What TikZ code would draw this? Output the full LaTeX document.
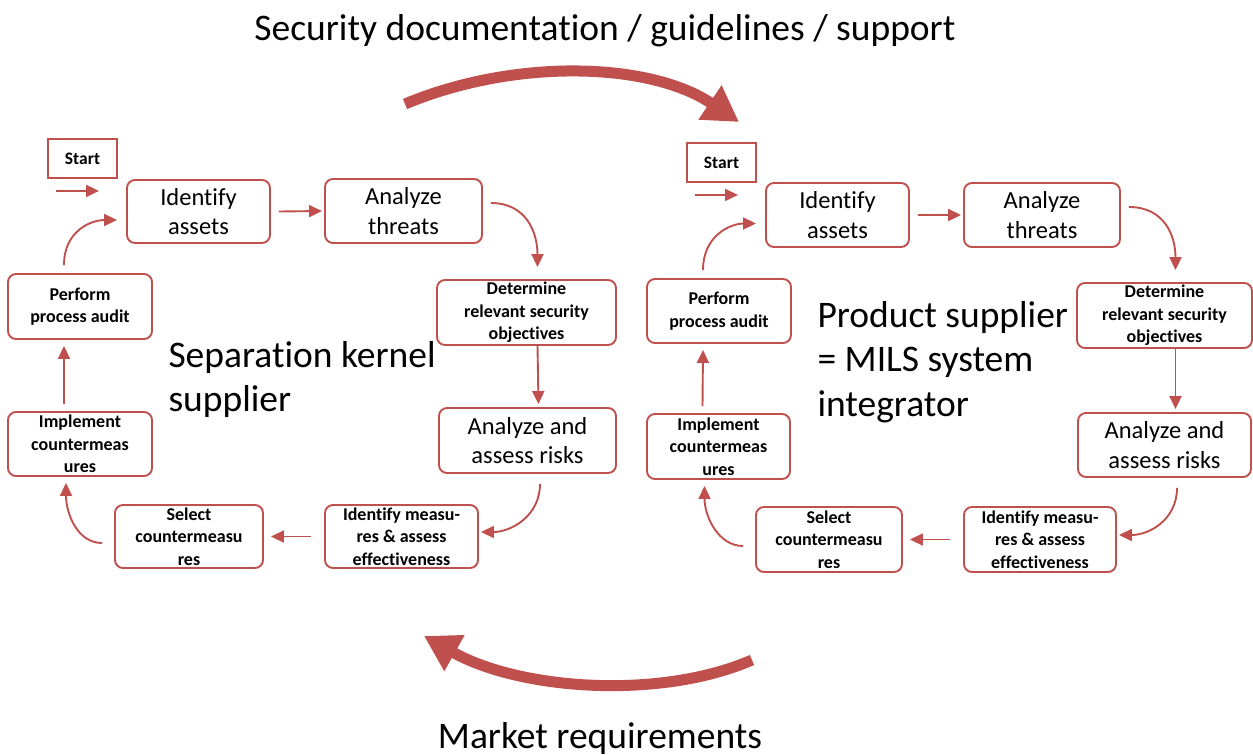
\documentclass[tikz,border=0pt]{standalone}
\usepackage{fontspec}
\setmainfont{Carlito}[Ligatures=NoCommon]
\usetikzlibrary{arrows.meta,calc}
\definecolor{accent}{HTML}{C0504D}

% connectors of one risk-management cycle; #1 is the node-name prefix
\newcommand\cycleflow[1]{%
  \coordinate (#1s0) at ($(#1start.south)+(-26.5,12)$);
  \coordinate (#1s1) at ($(#1start.south)+(16.5,12)$);
  \draw[arr] (#1s0) -- (#1s1);
  \draw[arr] ($(#1id.east)+(8,0)$) -- ($(#1at.west)+(-2,0)$);
  \draw[arr] ($(#1at.east)+(8,-8)$) .. controls +(35,0) and +(0,-35) .. ($(#1det.north)+(11,-12)$);
  \draw[arr] ($(#1det.south)+(11,0)$) -- ($(#1ar.north)+(11,-3)$);
  \draw[arr] ($(#1ar.south)+(12.5,10)$) .. controls +(0,32) and +(30,0) .. ($(#1im.east)+(2,-4.5)$);
  \draw[arr] ($(#1im.west)+(-13,0)$) -- ($(#1sel.east)+(7,0)$);
  \draw[arr] ($(#1sel.west)+(-12,6.5)$) .. controls +(-25,0) and +(0,30) .. ($(#1impl.south)+(-14,6)$);
  \draw[arr] ($(#1impl.north)+(-16,-7)$) -- ($(#1pa.south)+(-16,6)$);
  \draw[arr] ($(#1pa.north)+(-16,-8)$) .. controls +(0,-35) and +(-25,0) .. ($(#1id.west)+(-9,8.5)$);
}

\begin{document}
\begin{tikzpicture}[x=1pt,y=-1pt,
  box/.style={draw=accent, line width=1.9pt, rounded corners=8pt, align=center,
    inner sep=0pt, text=black},
  big/.style={box, font=\fontsize{24.5}{29.5}\selectfont},
  small/.style={box, font=\bfseries\fontsize{18}{22.5}\selectfont},
  startbox/.style={draw=accent, line width=1.9pt, inner sep=0pt, text=black,
    minimum width=69pt, minimum height=39pt, font=\bfseries\fontsize{17.5}{20}\selectfont},
  arr/.style={draw=accent, line width=1.9pt, -{Triangle[length=13pt,width=12pt]}},
  bigarrow/.style={draw=accent, line width=11pt, -{Triangle[length=35pt,width=39pt]}},
  heading/.style={font=\fontsize{37.5}{44}\selectfont, text=black},
  label/.style={font=\fontsize{37.5}{44.5}\selectfont, text=black, align=left, anchor=base west},
]
\useasboundingbox (0,0) rectangle (1253,755);

% headings and the two exchange arrows
\node[heading, anchor=base] (title) at (605,40) {Security documentation / guidelines / support};
\node[heading, anchor=base] (market) at (600,748) {Market requirements};
\coordinate (topTail) at (405,104);
\coordinate (topHead) at (739,122);
\draw[bigarrow] (topTail) .. controls (515,58) and (650,62) .. (topHead);
\coordinate (botTail) at (752,660);
\coordinate (botHead) at (424,636);
\draw[bigarrow] (botTail) .. controls (660,700) and (520,690) .. (botHead);

% separation kernel supplier cycle
\node[startbox] (Lstart) at (82.5,158.5) {Start};
\node[big, minimum width=143, minimum height=63] (Lid) at (198.5,211.5) {Identify\\assets};
\node[big, minimum width=157, minimum height=64] (Lat) at (403.5,211) {Analyze\\threats};
\node[small, minimum width=179, minimum height=65] (Ldet) at (526.5,312.5) {Determine\\relevant security\\objectives};
\node[big, minimum width=177, minimum height=65] (Lar) at (527.5,440.5) {Analyze and\\assess risks};
\node[small, minimum width=153, minimum height=63] (Lim) at (401.5,536.5) {Identify measu-\\res \& assess\\effectiveness};
\node[small, minimum width=148, minimum height=63] (Lsel) at (189,536.5) {Select\\countermeasu\\res};
\node[small, minimum width=144, minimum height=64] (Limpl) at (80,444) {Implement\\countermeas\\ures};
\node[small, minimum width=144, minimum height=65] (Lpa) at (80,306.5) {Perform\\process audit};
\cycleflow{L}
\node[label] (kernel) at (165,411.5) {Separation kernel\\supplier};

% product supplier cycle
\node[startbox] (Rstart) at (721.5,162.5) {Start};
\node[big, minimum width=143, minimum height=64] (Rid) at (837.5,215) {Identify\\assets};
\node[big, minimum width=156, minimum height=64] (Rat) at (1042,215) {Analyze\\threats};
\node[small, minimum width=175, minimum height=65] (Rdet) at (1164.5,315.5) {Determine\\relevant security\\objectives};
\node[big, minimum width=173, minimum height=64] (Rar) at (1164.5,445) {Analyze and\\assess risks};
\node[small, minimum width=152, minimum height=65] (Rim) at (1040,539.5) {Identify measu-\\res \& assess\\effectiveness};
\node[small, minimum width=146, minimum height=65] (Rsel) at (829,539.5) {Select\\countermeasu\\res};
\node[small, minimum width=143, minimum height=65] (Rimpl) at (718.5,446.5) {Implement\\countermeas\\ures};
\node[small, minimum width=144, minimum height=64] (Rpa) at (719,311) {Perform\\process audit};
\cycleflow{R}
\node[label] (integrator) at (814,416) {Product supplier\\= MILS system\\integrator};
\end{tikzpicture}
\end{document}
